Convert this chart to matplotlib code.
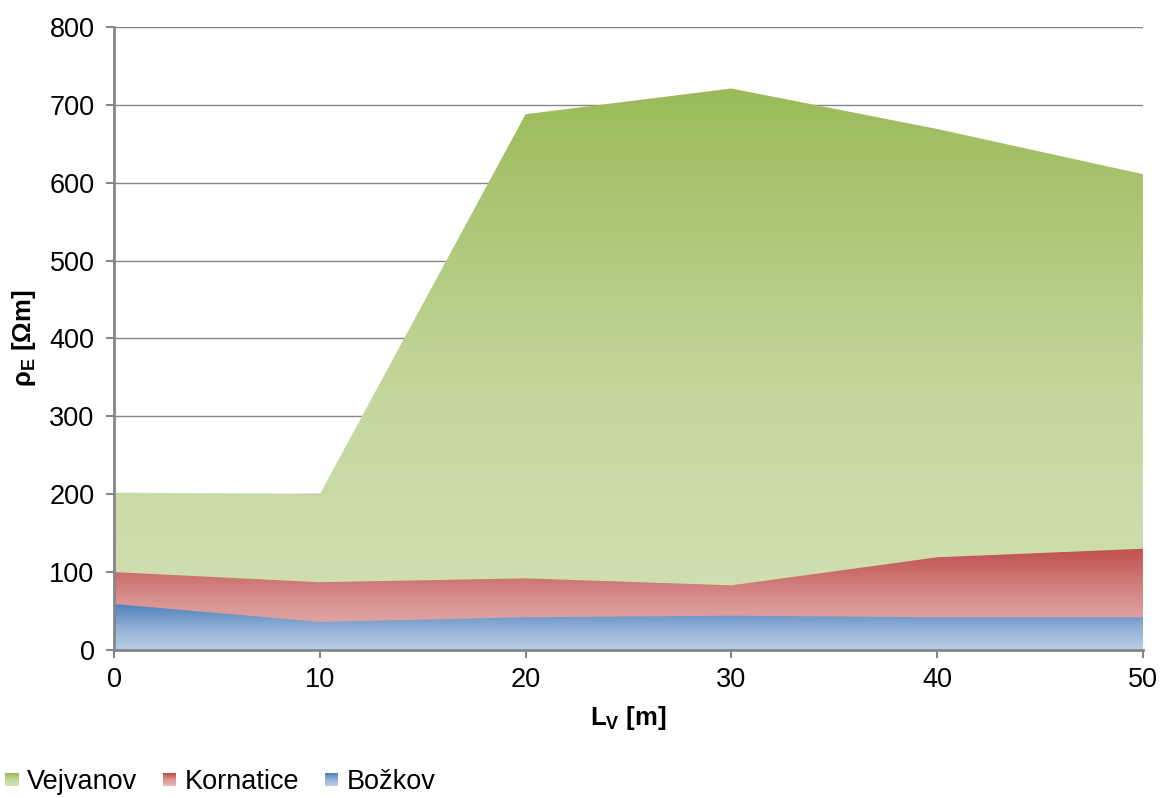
import numpy as np
import matplotlib
matplotlib.use("Agg")
import matplotlib.pyplot as plt
from matplotlib.colors import LinearSegmentedColormap
from matplotlib.patches import Rectangle
from matplotlib.legend_handler import HandlerBase

plt.rcParams['font.family'] = ['Liberation Sans', 'DejaVu Sans']
plt.rcParams['mathtext.fontset'] = 'custom'
plt.rcParams['mathtext.rm'] = 'Liberation Sans'
plt.rcParams['mathtext.bf'] = 'Liberation Sans:bold'

# ---- data ----
lv = [0, 10, 20, 30, 40, 50]
vejvanov = [202, 200, 688, 721, 669, 611]
kornatice = [100, 87, 92, 83, 119, 130]
bozkov = [59, 36, 42, 44, 42, 42]
series_names = ["Vejvanov", "Kornatice", "Božkov"]
y_ticks = [0, 100, 200, 300, 400, 500, 600, 700, 800]
x_ticks = [0, 10, 20, 30, 40, 50]

gradients = {
    "Vejvanov": [(0.0, "#9BBB59"), (0.55, "#C4D79E"), (1.0, "#D3E1B5")],
    "Kornatice": [(0.0, "#C0504D"), (0.55, "#D99694"), (1.0, "#E6B9B8")],
    "Božkov": [(0.0, "#4F81BD"), (0.55, "#95B3D7"), (1.0, "#BBCFE6")],
}

fig = plt.figure(figsize=(11.6, 7.98), dpi=100)
ax = fig.add_axes([0.0983, 0.1855, 0.887, 0.7807])

x = np.array(lv, dtype=float)
for name, vals in zip(series_names, [vejvanov, kornatice, bozkov]):
    v = np.array(vals, dtype=float)
    cmap = LinearSegmentedColormap.from_list(name, gradients[name])
    poly = ax.fill_between(x, 0, v, facecolor='none', edgecolor='none', zorder=2)
    grad = np.linspace(0, 1, 256).reshape(-1, 1)
    im = ax.imshow(grad, cmap=cmap, aspect='auto', vmin=0, vmax=1,
                   extent=[x.min(), x.max(), 0, v.max()], origin='upper',
                   zorder=2, interpolation='bilinear')
    path = poly.get_paths()[0]
    im.set_clip_path(path, transform=ax.transData)

ax.set_xlim(0, 50)
ax.set_ylim(0, 800)
ax.set_xticks(x_ticks)
ax.set_yticks(y_ticks)
ax.yaxis.grid(True, color='#868686', linewidth=1.0, zorder=1)
ax.set_axisbelow(True)
for s in ['top', 'right']:
    ax.spines[s].set_visible(False)
for s in ['left', 'bottom']:
    ax.spines[s].set_color('#868686')
    ax.spines[s].set_linewidth(2.0)
    ax.spines[s].set_zorder(3)
ax.tick_params(axis='both', direction='out', length=6, width=1.5, color='#868686',
               labelsize=19.5, labelcolor='black')
ax.tick_params(axis='y', pad=8)
ax.tick_params(axis='x', pad=6)

ax.set_xlabel(r'L$_\mathbf{V}$ [m]', fontsize=18.5, fontweight='bold', labelpad=8)
ax.set_ylabel(r'ρ$_\mathbf{E}$ [Ωm]', fontsize=18.5, fontweight='bold', labelpad=8)


class GradHandler(HandlerBase):
    def __init__(self, stops):
        super().__init__()
        self.stops = stops

    def create_artists(self, legend, orig_handle, xdescent, ydescent, width, height,
                       fontsize, trans):
        cmap = LinearSegmentedColormap.from_list('h', self.stops)
        side = width
        x0 = -xdescent
        y0 = -ydescent + (height - side) / 2
        n = 12
        arts = []
        for i in range(n):
            c = cmap(i / (n - 1))
            r = Rectangle((x0, y0 + side * (1 - (i + 1) / n)), side, side / n + 0.3,
                          facecolor=c, edgecolor='none', transform=trans)
            arts.append(r)
        return arts


handles = [Rectangle((0, 0), 1, 1) for _ in series_names]
hmap = {h: GradHandler(gradients[n]) for h, n in zip(handles, series_names)}
fig.legend(handles, series_names, handler_map=hmap, loc='lower left',
           bbox_to_anchor=(-0.0165, -0.027), ncol=3, frameon=False, fontsize=19.5,
           handlelength=0.5, handleheight=0.7, handletextpad=0.3, columnspacing=0.95)

fig.savefig('out.png', dpi=100)
